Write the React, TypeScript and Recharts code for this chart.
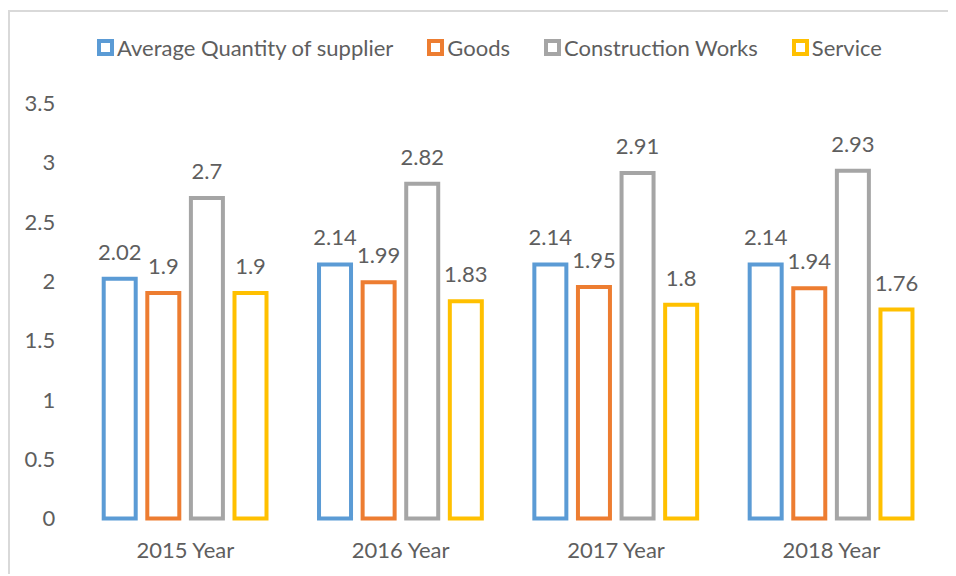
import { Bar, BarChart, LabelList, Legend, XAxis, YAxis } from "recharts";

const YEARS = ["2015 Year", "2016 Year", "2017 Year", "2018 Year"];
const AVG_SUPPLIER = [2.02, 2.14, 2.14, 2.14];
const GOODS = [1.9, 1.99, 1.95, 1.94];
const CONSTRUCTION = [2.7, 2.82, 2.91, 2.93];
const SERVICE = [1.9, 1.83, 1.8, 1.76];
const Y_TICKS = [0, 0.5, 1, 1.5, 2, 2.5, 3, 3.5];

const SERIES = [
  { key: "avg", name: "Average Quantity of supplier", color: "#5B9BD5" },
  { key: "goods", name: "Goods", color: "#ED7D31" },
  { key: "construction", name: "Construction Works", color: "#A5A5A5" },
  { key: "service", name: "Service", color: "#FFC000" },
];

const rows = YEARS.map((year, i) => ({
  year,
  avg: AVG_SUPPLIER[i],
  goods: GOODS[i],
  construction: CONSTRUCTION[i],
  service: SERVICE[i],
}));

const FONT = "Lato, 'Open Sans', sans-serif";
const TEXT = "#5e5e5e";
const SIZE = 22;

function LegendRow() {
  return (
    <div style={{ display: "flex", alignItems: "center", gap: 34, height: 24, fontFamily: FONT, fontSize: SIZE, color: TEXT }}>
      {SERIES.map((s) => (
        <span key={s.key} style={{ display: "flex", alignItems: "center", gap: 3, whiteSpace: "nowrap" }}>
          <span
            style={{
              display: "inline-block",
              width: 17,
              height: 17,
              boxSizing: "border-box",
              border: `4.5px solid ${s.color}`,
              background: "#fff",
            }}
          />
          {s.name}
        </span>
      ))}
    </div>
  );
}

export default function App() {
  return (
    <div
      style={{
        position: "relative",
        top: 2,
        width: 948,
        height: 566,
        boxSizing: "border-box",
        borderTop: "2px solid #d9d9d9",
        borderLeft: "2px solid #d9d9d9",
        background: "#fff",
      }}
    >
      <BarChart
        width={946}
        height={564}
        data={rows}
        margin={{ top: 67, right: 17, bottom: 27.5, left: 0 }}
        barSize={32}
        barGap={11.6}
      >
        <Legend
          verticalAlign="top"
          content={<LegendRow />}
          wrapperStyle={{ top: 23, left: 87, width: "auto", height: 24 }}
        />
        <XAxis
          dataKey="year"
          axisLine={false}
          tickLine={false}
          tickSize={0}
          tickMargin={24}
          height={30}
          tick={{ fill: TEXT, fontSize: SIZE, fontFamily: FONT }}
        />
        <YAxis
          domain={[0, 3.5]}
          ticks={Y_TICKS}
          axisLine={false}
          tickLine={false}
          tickSize={0}
          tickMargin={22.5}
          width={67.7}
          tick={{ fill: TEXT, fontSize: SIZE, fontFamily: FONT }}
        />
        {SERIES.map((s) => (
          <Bar
            key={s.key}
            dataKey={s.key}
            name={s.name}
            fill="#fff"
            stroke={s.color}
            strokeWidth={4}
            isAnimationActive={false}
          >
            <LabelList dataKey={s.key} position="top" offset={19} fill={TEXT} fontSize={SIZE} fontFamily={FONT} />
          </Bar>
        ))}
      </BarChart>
    </div>
  );
}
